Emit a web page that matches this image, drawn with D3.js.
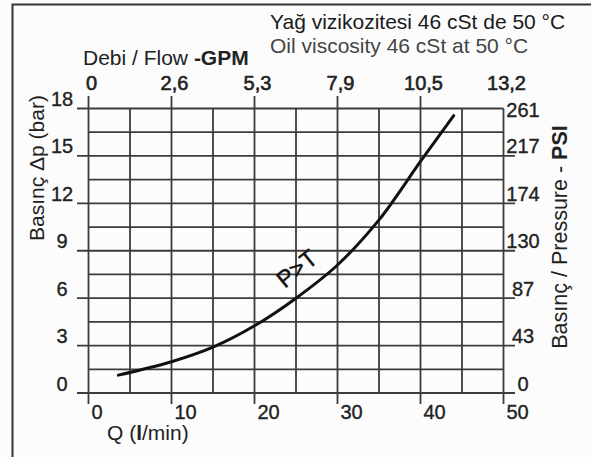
<!DOCTYPE html>
<html>
<head>
<meta charset="utf-8">
<script src="https://cdn.jsdelivr.net/npm/d3@7"></script>
<style>
  html, body { margin: 0; padding: 0; background: #fcfcfc; }
  svg { display: block; font-family: "Liberation Sans", Arial, sans-serif; }
</style>
</head>
<body>
<svg id="chart" width="591" height="457"></svg>
<script>
// Flow (l/min) vs pressure drop (bar)
const flowLpm     = [3.6, 10, 15, 20, 25, 30, 35, 40, 44];
const pressureBar = [1.13, 1.98, 2.9, 4.25, 6.0, 8.1, 10.95, 14.65, 17.55];

// Axis ticks
const flowTicks = [0, 10, 20, 30, 40, 50];
const flowGrid = [0, 5, 10, 15, 20, 25, 30, 35, 40, 45, 50];
const gpmLabels = ['0', '2,6', '5,3', '7,9', '10,5', '13,2'];
const barTicks = [0, 3, 6, 9, 12, 15, 18];
const barGrid = [0, 1.5, 3, 4.5, 6, 7.5, 9, 10.5, 12, 13.5, 15, 16.5, 18];
const psiLabels = ['0', '43', '87', '130', '174', '217', '261'];

const svg = d3.select('#chart');
const ink = '#222';
const gridCol = '#3c3c3c';

const x = d3.scaleLinear().domain([0, 50]).range([88.5, 503.5]);
const y = d3.scaleLinear().domain([0, 18]).range([393, 108.5]);

// outer frame (only top and left edges fall inside the picture)
svg.append('path')
    .attr('d', 'M12.5,460 V4.5 H595')
    .attr('fill', 'none')
    .attr('stroke', '#333')
    .attr('stroke-width', 2);

// grid
const grid = svg.append('g').attr('stroke', gridCol).attr('stroke-width', 1.8);

grid.selectAll('.v').data(flowGrid).join('line')
    .attr('x1', d => x(d)).attr('x2', d => x(d))
    .attr('y1', d => (flowTicks.includes(d) && d < 50) ? 96 : y(18))
    .attr('y2', d => flowTicks.includes(d) ? 404 : y(0));

grid.selectAll('.h').data(barGrid).join('line')
    .attr('y1', d => y(d)).attr('y2', d => y(d))
    .attr('x1', d => barTicks.includes(d) ? 77 : x(0))
    .attr('x2', d => (barTicks.includes(d) && d < 18) ? 515 : x(50));

// tick label helper: slightly heavy, like the scanned figure
const labels = (sel) => sel
    .attr('font-size', 20)
    .attr('fill', ink)
    .attr('stroke', ink).attr('stroke-width', 0.35);

// top axis: GPM
svg.append('g').selectAll('text').data(flowTicks).join('text')
    .attr('x', d => x(d) + 3)
    .attr('y', 90)
    .attr('text-anchor', 'middle')
    .call(labels)
    .attr('stroke-width', 0.6)
    .text((d, i) => gpmLabels[i]);

// bottom axis: l/min
svg.append('g').selectAll('text').data(flowTicks).join('text')
    .attr('x', d => x(d) + 3)
    .attr('y', 418.5)
    .call(labels)
    .text(d => d);

// left axis: bar
svg.append('g').selectAll('text').data(barTicks).join('text')
    .attr('x', 62)
    .attr('y', d => y(d) - 2.5)
    .attr('text-anchor', 'middle')
    .call(labels)
    .text(d => d);

// right axis: PSI
svg.append('g').selectAll('text').data(barTicks).join('text')
    .attr('x', 523)
    .attr('y', d => d === 18 ? y(d) + 8 : y(d) - 2.5)
    .attr('text-anchor', 'middle')
    .call(labels)
    .text((d, i) => psiLabels[i]);

// curve
const line = d3.line()
    .x((d, i) => x(flowLpm[i]))
    .y(d => y(d))
    .curve(d3.curveCatmullRom.alpha(0.5));

svg.append('path')
    .datum(pressureBar)
    .attr('d', line)
    .attr('fill', 'none')
    .attr('stroke', '#111')
    .attr('stroke-width', 3)
    .attr('stroke-linecap', 'round');

svg.append('text')
    .attr('transform', 'translate(302,275) rotate(-39)')
    .attr('text-anchor', 'middle')
    .attr('font-size', 24)
    .attr('fill', '#111')
    .attr('stroke', '#111').attr('stroke-width', 0.4)
    .text('P>T');

// titles
svg.append('text')
    .attr('x', 270).attr('y', 29)
    .attr('font-size', 21).attr('fill', '#1a1a1a')
    .text('Yağ vizikozitesi 46 cSt de 50 °C');

svg.append('text')
    .attr('x', 270).attr('y', 52.5)
    .attr('font-size', 21).attr('fill', '#444')
    .text('Oil viscosity 46 cSt at 50 °C');

const flowTitle = svg.append('text')
    .attr('x', 83).attr('y', 65)
    .attr('font-size', 21).attr('fill', ink);
flowTitle.append('tspan').text('Debi / Flow ');
flowTitle.append('tspan').attr('font-weight', 'bold').text('-GPM');

const qTitle = svg.append('text')
    .attr('x', 107).attr('y', 440)
    .attr('font-size', 21).attr('fill', ink);
qTitle.append('tspan').text('Q (');
qTitle.append('tspan').attr('font-weight', 'bold').text('l');
qTitle.append('tspan').text('/min)');

svg.append('text')
    .attr('transform', 'translate(44,168) rotate(-90)')
    .attr('text-anchor', 'middle')
    .attr('font-size', 21).attr('fill', ink)
    .text('Basınç Δp (bar)');

const psiTitle = svg.append('text')
    .attr('transform', 'translate(567,237) rotate(-90)')
    .attr('text-anchor', 'middle')
    .attr('font-size', 21.5).attr('fill', ink);
psiTitle.append('tspan').text('Basınç / Pressure - ');
psiTitle.append('tspan').attr('font-weight', 'bold').text('PSI');
</script>
</body>
</html>
